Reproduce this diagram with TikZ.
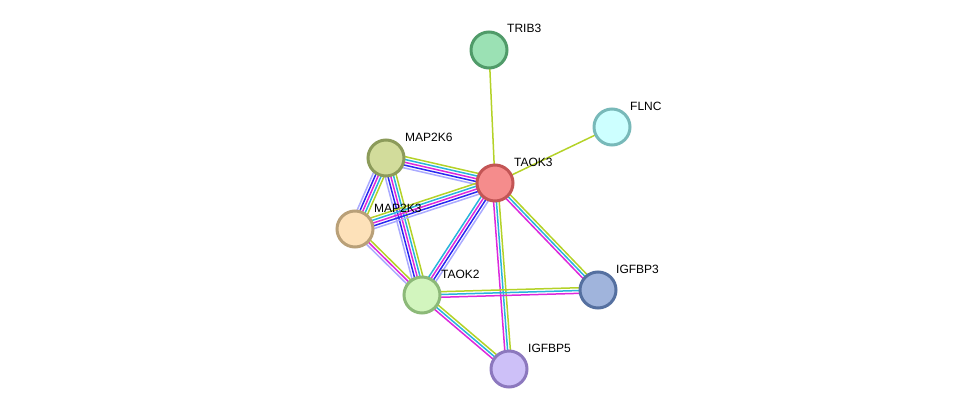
\documentclass[tikz,border=0pt]{standalone}
\usepackage{fontspec}
\setmainfont{Liberation Sans}
\usetikzlibrary{calc}
\definecolor{lp}{RGB}{170,170,255}
\definecolor{bl}{RGB}{40,40,240}
\definecolor{mg}{RGB}{220,40,220}
\definecolor{cy}{RGB}{40,180,220}
\definecolor{yg}{RGB}{180,210,40}
\tikzset{
	protnode/.style={circle, line width=3pt, minimum size=36pt, inner sep=0pt},
	protlabel/.style={anchor=base west, font=\fontsize{12pt}{13pt}\selectfont, inner sep=0pt}
}
% parallel coloured lines between two nodes
\newcommand{\multiedge}[3]{%
	\foreach \c [count=\i] in {#3} {\xdef\nlines{\i}}%
	\foreach \c [count=\i] in {#3} {%
		\pgfmathsetmacro{\off}{(\i-(\nlines+1)/2)*2.8}%
		\draw[\c, line width=1.5pt] ($(#1)!\off pt!90:(#2)$) -- ($(#2)!\off pt!-90:(#1)$);
	}%
}
\begin{document}
\begin{tikzpicture}[x=1pt, y=-1pt]
	\useasboundingbox (0,0) rectangle (976,415);
	\coordinate (trib3) at (489,50);
	\coordinate (flnc) at (612,127);
	\coordinate (map2k6) at (386,158);
	\coordinate (taok3) at (495,183);
	\coordinate (map2k3) at (355,229);
	\coordinate (taok2) at (422,295);
	\coordinate (igfbp3) at (598,290);
	\coordinate (igfbp5) at (509,369);
	
	\multiedge{trib3}{taok3}{yg}
	\multiedge{flnc}{taok3}{yg}
	\multiedge{map2k6}{taok3}{lp,bl,mg,cy,yg}
	\multiedge{map2k6}{map2k3}{lp,bl,mg,cy,yg}
	\multiedge{map2k6}{taok2}{lp,bl,mg,cy,yg}
	\multiedge{map2k3}{taok3}{lp,bl,mg,cy,yg}
	\multiedge{map2k3}{taok2}{lp,mg,yg}
	\multiedge{taok2}{taok3}{lp,bl,mg,cy}
	\multiedge{taok3}{igfbp3}{mg,cy,yg}
	\multiedge{taok3}{igfbp5}{mg,cy,yg}
	\multiedge{taok2}{igfbp3}{mg,cy,yg}
	\multiedge{taok2}{igfbp5}{mg,cy,yg}
	
	\node[protnode, draw={rgb,255:red,80;green,155;blue,105}, fill={rgb,255:red,155;green,225;blue,180}] (n1) at (trib3) {};
	\node[protnode, draw={rgb,255:red,120;green,185;blue,185}, fill={rgb,255:red,205;green,255;blue,255}] (n2) at (flnc) {};
	\node[protnode, draw={rgb,255:red,140;green,155;blue,90}, fill={rgb,255:red,210;green,220;blue,155}] (n3) at (map2k6) {};
	\node[protnode, draw={rgb,255:red,195;green,85;blue,85}, fill={rgb,255:red,245;green,140;blue,140}] (n4) at (taok3) {};
	\node[protnode, draw={rgb,255:red,185;green,160;blue,120}, fill={rgb,255:red,253;green,225;blue,185}] (n5) at (map2k3) {};
	\node[protnode, draw={rgb,255:red,140;green,185;blue,120}, fill={rgb,255:red,210;green,245;blue,190}] (n6) at (taok2) {};
	\node[protnode, draw={rgb,255:red,85;green,112;blue,160}, fill={rgb,255:red,160;green,180;blue,220}] (n7) at (igfbp3) {};
	\node[protnode, draw={rgb,255:red,140;green,120;blue,190}, fill={rgb,255:red,205;green,192;blue,248}] (n8) at (igfbp5) {};
	
	\node[protlabel] at (507,32) (l1) {TRIB3};
	\node[protlabel] at (630,110) (l2) {FLNC};
	\node[protlabel] at (405,141) (l3) {MAP2K6};
	\node[protlabel] at (514,166) (l4) {TAOK3};
	\node[protlabel] at (374,212) (l5) {MAP2K3};
	\node[protlabel] at (441,278) (l6) {TAOK2};
	\node[protlabel] at (616,273) (l7) {IGFBP3};
	\node[protlabel] at (528,352) (l8) {IGFBP5};
\end{tikzpicture}
\end{document}
